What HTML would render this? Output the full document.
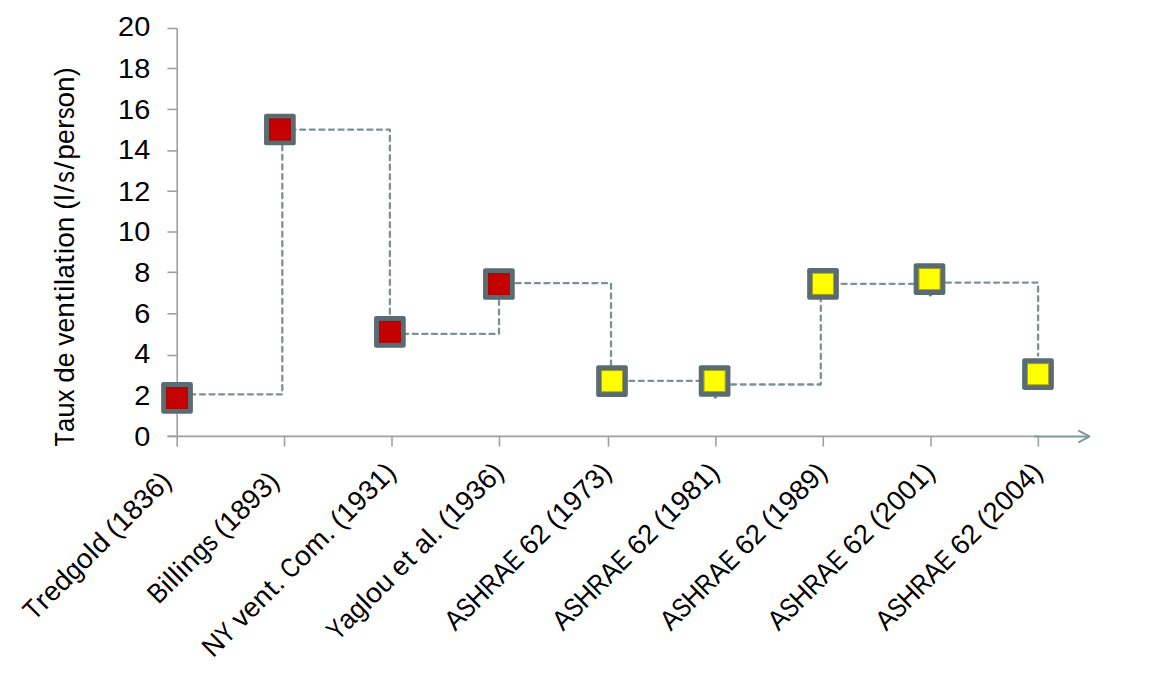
<!DOCTYPE html>
<html><head><meta charset="utf-8"><title>Taux de ventilation</title>
<style>
html,body{margin:0;padding:0;background:#fff;}
body{width:1152px;height:674px;overflow:hidden;}
svg{display:block;}
.t{font-family:"Liberation Sans",sans-serif;font-size:27px;fill:#000;}
</style></head><body>
<svg width="1152" height="674" viewBox="0 0 1152 674">
<rect width="1152" height="674" fill="#fff"/>
<line x1="177.2" y1="28.5" x2="177.2" y2="446.8" stroke="#A0A0A0" stroke-width="1.6"/>
<line x1="167.4" y1="436.4" x2="177.2" y2="436.4" stroke="#A0A0A0" stroke-width="1.6"/>
<line x1="167.4" y1="395.9" x2="177.2" y2="395.9" stroke="#A0A0A0" stroke-width="1.6"/>
<line x1="167.4" y1="355.5" x2="177.2" y2="355.5" stroke="#A0A0A0" stroke-width="1.6"/>
<line x1="167.4" y1="313.8" x2="177.2" y2="313.8" stroke="#A0A0A0" stroke-width="1.6"/>
<line x1="167.4" y1="272.3" x2="177.2" y2="272.3" stroke="#A0A0A0" stroke-width="1.6"/>
<line x1="167.4" y1="232.0" x2="177.2" y2="232.0" stroke="#A0A0A0" stroke-width="1.6"/>
<line x1="167.4" y1="191.2" x2="177.2" y2="191.2" stroke="#A0A0A0" stroke-width="1.6"/>
<line x1="167.4" y1="150.9" x2="177.2" y2="150.9" stroke="#A0A0A0" stroke-width="1.6"/>
<line x1="167.4" y1="109.4" x2="177.2" y2="109.4" stroke="#A0A0A0" stroke-width="1.6"/>
<line x1="167.4" y1="68.5" x2="177.2" y2="68.5" stroke="#A0A0A0" stroke-width="1.6"/>
<line x1="167.4" y1="28.5" x2="177.2" y2="28.5" stroke="#A0A0A0" stroke-width="1.6"/>
<line x1="167.6" y1="436.4" x2="1038.6" y2="436.4" stroke="#A0A0A0" stroke-width="1.6"/>
<line x1="284.5" y1="436.4" x2="284.5" y2="446.6" stroke="#A0A0A0" stroke-width="1.6"/>
<line x1="392.0" y1="436.4" x2="392.0" y2="446.6" stroke="#A0A0A0" stroke-width="1.6"/>
<line x1="499.5" y1="436.4" x2="499.5" y2="446.6" stroke="#A0A0A0" stroke-width="1.6"/>
<line x1="608.5" y1="436.4" x2="608.5" y2="446.6" stroke="#A0A0A0" stroke-width="1.6"/>
<line x1="715.9" y1="436.4" x2="715.9" y2="446.6" stroke="#A0A0A0" stroke-width="1.6"/>
<line x1="823.3" y1="436.4" x2="823.3" y2="446.6" stroke="#A0A0A0" stroke-width="1.6"/>
<line x1="931.0" y1="436.4" x2="931.0" y2="446.6" stroke="#A0A0A0" stroke-width="1.6"/>
<line x1="1038.4" y1="436.4" x2="1038.4" y2="446.6" stroke="#A0A0A0" stroke-width="1.6"/>
<line x1="1035" y1="436.4" x2="1089" y2="436.4" stroke="#7F999D" stroke-width="2.0" stroke-linecap="round"/>
<polyline points="1079,430.8 1089.5,436.4 1079,442.1" fill="none" stroke="#7F999D" stroke-width="2.0" stroke-linecap="round" stroke-linejoin="round"/>
<text transform="translate(150.2,446.2) scale(1.07,1)" x="0" y="0" text-anchor="end" class="t">0</text>
<text transform="translate(150.2,404.7) scale(1.07,1)" x="0" y="0" text-anchor="end" class="t">2</text>
<text transform="translate(150.2,363.4) scale(1.07,1)" x="0" y="0" text-anchor="end" class="t">4</text>
<text transform="translate(150.2,323.2) scale(1.07,1)" x="0" y="0" text-anchor="end" class="t">6</text>
<text transform="translate(150.2,281.6) scale(1.07,1)" x="0" y="0" text-anchor="end" class="t">8</text>
<text transform="translate(150.2,241.1) scale(1.07,1)" x="0" y="0" text-anchor="end" class="t">10</text>
<text transform="translate(150.2,200.9) scale(1.07,1)" x="0" y="0" text-anchor="end" class="t">12</text>
<text transform="translate(150.2,159.3) scale(1.07,1)" x="0" y="0" text-anchor="end" class="t">14</text>
<text transform="translate(150.2,119.2) scale(1.07,1)" x="0" y="0" text-anchor="end" class="t">16</text>
<text transform="translate(150.2,78.2) scale(1.07,1)" x="0" y="0" text-anchor="end" class="t">18</text>
<text transform="translate(150.2,36.1) scale(1.07,1)" x="0" y="0" text-anchor="end" class="t">20</text>
<path d="M177,394.3 L282.3,394.3 L282.3,129.7 L389.9,129.7 L389.9,333.9 L499,333.9 L499,283.2 L611,283.2 L611,380.8 L714.6,380.8 L714.6,384.5 L820.8,384.5 L820.8,283.8 L929.5,283.8 L929.5,282.6 L1038.1,282.6 L1038.1,355.5" fill="none" stroke="#7D9194" stroke-width="2.3" stroke-dasharray="5 4.6" stroke-dashoffset="5.85" stroke-linecap="round" stroke-linejoin="round"/>
<rect x="161.20" y="382.10" width="31.70" height="31.70" rx="2.2" fill="#5A6B71"/>
<rect x="166.20" y="387.10" width="21.70" height="21.70" fill="#C40000"/>
<rect x="166.55" y="387.45" width="21.00" height="21.00" fill="none" stroke="#9C0A0A" stroke-width="0.8" stroke-opacity="0.8"/>
<rect x="264.05" y="113.65" width="31.70" height="31.70" rx="2.2" fill="#5A6B71"/>
<rect x="269.05" y="118.65" width="21.70" height="21.70" fill="#C40000"/>
<rect x="269.40" y="119.00" width="21.00" height="21.00" fill="none" stroke="#9C0A0A" stroke-width="0.8" stroke-opacity="0.8"/>
<rect x="374.05" y="315.95" width="31.70" height="31.70" rx="2.2" fill="#5A6B71"/>
<rect x="379.05" y="320.95" width="21.70" height="21.70" fill="#C40000"/>
<rect x="379.40" y="321.30" width="21.00" height="21.00" fill="none" stroke="#9C0A0A" stroke-width="0.8" stroke-opacity="0.8"/>
<rect x="483.05" y="268.15" width="31.70" height="31.70" rx="2.2" fill="#5A6B71"/>
<rect x="488.05" y="273.15" width="21.70" height="21.70" fill="#C40000"/>
<rect x="488.40" y="273.50" width="21.00" height="21.00" fill="none" stroke="#9C0A0A" stroke-width="0.8" stroke-opacity="0.8"/>
<rect x="596.15" y="365.35" width="31.70" height="31.70" rx="2.2" fill="#5A6B71"/>
<rect x="601.15" y="370.35" width="21.70" height="21.70" fill="#FFFF00"/>
<rect x="601.50" y="370.70" width="21.00" height="21.00" fill="none" stroke="#7E7E1E" stroke-width="0.8" stroke-opacity="0.8"/>
<rect x="698.75" y="365.15" width="31.70" height="31.70" rx="2.2" fill="#5A6B71"/>
<rect x="703.75" y="370.15" width="21.70" height="21.70" fill="#FFFF00"/>
<rect x="704.10" y="370.50" width="21.00" height="21.00" fill="none" stroke="#7E7E1E" stroke-width="0.8" stroke-opacity="0.8"/>
<rect x="807.15" y="267.95" width="31.70" height="31.70" rx="2.2" fill="#5A6B71"/>
<rect x="812.15" y="272.95" width="21.70" height="21.70" fill="#FFFF00"/>
<rect x="812.50" y="273.30" width="21.00" height="21.00" fill="none" stroke="#7E7E1E" stroke-width="0.8" stroke-opacity="0.8"/>
<rect x="913.65" y="263.25" width="31.70" height="31.70" rx="2.2" fill="#5A6B71"/>
<rect x="918.65" y="268.25" width="21.70" height="21.70" fill="#FFFF00"/>
<rect x="919.00" y="268.60" width="21.00" height="21.00" fill="none" stroke="#7E7E1E" stroke-width="0.8" stroke-opacity="0.8"/>
<rect x="1022.15" y="358.35" width="31.70" height="31.70" rx="2.2" fill="#5A6B71"/>
<rect x="1027.15" y="363.35" width="21.70" height="21.70" fill="#FFFF00"/>
<rect x="1027.50" y="363.70" width="21.00" height="21.00" fill="none" stroke="#7E7E1E" stroke-width="0.8" stroke-opacity="0.8"/>
<ellipse cx="715.4" cy="397.4" rx="1.8" ry="1.1" fill="#6F8286"/>
<ellipse cx="930.4" cy="295.4" rx="1.8" ry="1.1" fill="#6F8286"/>
<g transform="translate(173.0,482.8) rotate(-45)" class="t" style="font-size:27.5px"><text transform="translate(-196.09,0) scale(0.879,1)">T</text><text transform="translate(-180.81,0) scale(1.040,1)">r</text><text transform="translate(-170.76,0) scale(0.986,1)">e</text><text transform="translate(-155.68,0) scale(1.040,1)">d</text><text transform="translate(-139.77,0) scale(0.933,1)">g</text><text transform="translate(-125.47,0) scale(1.040,1)">o</text><text transform="translate(-109.23,0) scale(1.040,1)">l</text><text transform="translate(-102.57,0) scale(1.040,1)">d</text><text x="-79.80" y="0">(</text><text x="-70.62" y="0">1</text><text x="-55.26" y="0">8</text><text x="-39.90" y="0">3</text><text x="-24.54" y="0">6</text><text x="-9.19" y="0">)</text></g>
<g transform="translate(280.8,482.8) rotate(-45)" class="t" style="font-size:27.5px"><text transform="translate(-172.98,0) scale(0.899,1)">B</text><text transform="translate(-156.20,0) scale(1.040,1)">i</text><text transform="translate(-149.25,0) scale(1.040,1)">l</text><text transform="translate(-142.29,0) scale(1.040,1)">l</text><text transform="translate(-135.34,0) scale(1.040,1)">i</text><text transform="translate(-128.68,0) scale(1.040,1)">n</text><text transform="translate(-112.77,0) scale(0.933,1)">g</text><text transform="translate(-98.50,0) scale(0.862,1)">s</text><text x="-79.80" y="0">(</text><text x="-70.62" y="0">1</text><text x="-55.26" y="0">8</text><text x="-39.90" y="0">9</text><text x="-24.54" y="0">3</text><text x="-9.19" y="0">)</text></g>
<g transform="translate(397.6,473.8) rotate(-45)" class="t" style="font-size:27.5px"><text transform="translate(-261.15,0) scale(0.985,1)">N</text><text transform="translate(-241.59,0) scale(0.805,1)">Y</text><text x="-219.97" y="0">v</text><text transform="translate(-206.29,0) scale(0.986,1)">e</text><text transform="translate(-191.20,0) scale(1.040,1)">n</text><text transform="translate(-174.19,0) scale(1.040,1)">t</text><text x="-165.14" y="0">.</text><text transform="translate(-150.64,0) scale(0.814,1)">C</text><text transform="translate(-134.45,0) scale(1.040,1)">o</text><text transform="translate(-118.32,0) scale(1.040,1)">m</text><text x="-94.30" y="0">.</text><text x="-79.80" y="0">(</text><text x="-70.62" y="0">1</text><text x="-55.26" y="0">9</text><text x="-39.90" y="0">3</text><text x="-24.54" y="0">1</text><text x="-9.19" y="0">)</text></g>
<g transform="translate(505.3,473.8) rotate(-45)" class="t" style="font-size:27.5px"><text transform="translate(-237.09,0) scale(0.805,1)">Y</text><text transform="translate(-222.32,0) scale(0.949,1)">a</text><text transform="translate(-207.81,0) scale(0.933,1)">g</text><text transform="translate(-193.25,0) scale(1.040,1)">l</text><text transform="translate(-186.56,0) scale(1.040,1)">o</text><text transform="translate(-170.61,0) scale(1.040,1)">u</text><text transform="translate(-147.85,0) scale(0.986,1)">e</text><text transform="translate(-131.67,0) scale(1.040,1)">t</text><text transform="translate(-115.77,0) scale(0.949,1)">a</text><text transform="translate(-100.96,0) scale(1.040,1)">l</text><text x="-94.30" y="0">.</text><text x="-79.80" y="0">(</text><text x="-70.62" y="0">1</text><text x="-55.26" y="0">9</text><text x="-39.90" y="0">3</text><text x="-24.54" y="0">6</text><text x="-9.19" y="0">)</text></g>
<g transform="translate(613.1,473.8) rotate(-45)" class="t" style="font-size:27.5px"><text transform="translate(-223.33,0) scale(0.956,1)">A</text><text transform="translate(-206.17,0) scale(0.800,1)">S</text><text transform="translate(-191.88,0) scale(0.951,1)">H</text><text transform="translate(-173.00,0) scale(0.828,1)">R</text><text transform="translate(-156.55,0) scale(0.956,1)">A</text><text transform="translate(-139.01,0) scale(0.807,1)">E</text><text x="-117.37" y="0">6</text><text x="-102.01" y="0">2</text><text x="-79.80" y="0">(</text><text x="-70.62" y="0">1</text><text x="-55.26" y="0">9</text><text x="-39.90" y="0">7</text><text x="-24.54" y="0">3</text><text x="-9.19" y="0">)</text></g>
<g transform="translate(720.9,473.8) rotate(-45)" class="t" style="font-size:27.5px"><text transform="translate(-223.33,0) scale(0.956,1)">A</text><text transform="translate(-206.17,0) scale(0.800,1)">S</text><text transform="translate(-191.88,0) scale(0.951,1)">H</text><text transform="translate(-173.00,0) scale(0.828,1)">R</text><text transform="translate(-156.55,0) scale(0.956,1)">A</text><text transform="translate(-139.01,0) scale(0.807,1)">E</text><text x="-117.37" y="0">6</text><text x="-102.01" y="0">2</text><text x="-79.80" y="0">(</text><text x="-70.62" y="0">1</text><text x="-55.26" y="0">9</text><text x="-39.90" y="0">8</text><text x="-24.54" y="0">1</text><text x="-9.19" y="0">)</text></g>
<g transform="translate(828.7,473.8) rotate(-45)" class="t" style="font-size:27.5px"><text transform="translate(-223.33,0) scale(0.956,1)">A</text><text transform="translate(-206.17,0) scale(0.800,1)">S</text><text transform="translate(-191.88,0) scale(0.951,1)">H</text><text transform="translate(-173.00,0) scale(0.828,1)">R</text><text transform="translate(-156.55,0) scale(0.956,1)">A</text><text transform="translate(-139.01,0) scale(0.807,1)">E</text><text x="-117.37" y="0">6</text><text x="-102.01" y="0">2</text><text x="-79.80" y="0">(</text><text x="-70.62" y="0">1</text><text x="-55.26" y="0">9</text><text x="-39.90" y="0">8</text><text x="-24.54" y="0">9</text><text x="-9.19" y="0">)</text></g>
<g transform="translate(936.5,473.8) rotate(-45)" class="t" style="font-size:27.5px"><text transform="translate(-223.33,0) scale(0.956,1)">A</text><text transform="translate(-206.17,0) scale(0.800,1)">S</text><text transform="translate(-191.88,0) scale(0.951,1)">H</text><text transform="translate(-173.00,0) scale(0.828,1)">R</text><text transform="translate(-156.55,0) scale(0.956,1)">A</text><text transform="translate(-139.01,0) scale(0.807,1)">E</text><text x="-117.37" y="0">6</text><text x="-102.01" y="0">2</text><text x="-79.80" y="0">(</text><text x="-70.62" y="0">2</text><text x="-55.26" y="0">0</text><text x="-39.90" y="0">0</text><text x="-24.54" y="0">1</text><text x="-9.19" y="0">)</text></g>
<g transform="translate(1044.2,473.8) rotate(-45)" class="t" style="font-size:27.5px"><text transform="translate(-223.33,0) scale(0.956,1)">A</text><text transform="translate(-206.17,0) scale(0.800,1)">S</text><text transform="translate(-191.88,0) scale(0.951,1)">H</text><text transform="translate(-173.00,0) scale(0.828,1)">R</text><text transform="translate(-156.55,0) scale(0.956,1)">A</text><text transform="translate(-139.01,0) scale(0.807,1)">E</text><text x="-117.37" y="0">6</text><text x="-102.01" y="0">2</text><text x="-79.80" y="0">(</text><text x="-70.62" y="0">2</text><text x="-55.26" y="0">0</text><text x="-39.90" y="0">0</text><text x="-24.54" y="0">4</text><text x="-9.19" y="0">)</text></g>
<g transform="translate(74.4,446.4) rotate(-90)" class="t" style="font-size:28px"><text transform="translate(0.00,0) scale(0.843,1)">T</text><text transform="translate(14.42,0) scale(0.910,1)">a</text><text x="28.60" y="0">u</text><text transform="translate(44.15,0) scale(0.916,1)">x</text><text x="63.67" y="0">d</text><text transform="translate(79.22,0) scale(0.946,1)">e</text><text transform="translate(100.64,0) scale(0.955,1)">v</text><text transform="translate(114.01,0) scale(0.946,1)">e</text><text x="128.73" y="0">n</text><text transform="translate(145.20,0) scale(1.040,1)">t</text><text transform="translate(154.36,0) scale(1.040,1)">i</text><text transform="translate(161.16,0) scale(1.040,1)">l</text><text transform="translate(167.79,0) scale(0.910,1)">a</text><text transform="translate(182.88,0) scale(1.040,1)">t</text><text transform="translate(192.04,0) scale(1.040,1)">i</text><text x="198.67" y="0">o</text><text x="214.28" y="0">n</text><text transform="translate(236.53,0) scale(0.963,1)">(</text><text transform="translate(245.66,0) scale(1.040,1)">l</text><text transform="translate(253.96,0) scale(1.040,1)">/</text><text transform="translate(263.73,0) scale(0.827,1)">s</text><text transform="translate(276.97,0) scale(1.040,1)">/</text><text x="286.74" y="0">p</text><text transform="translate(302.29,0) scale(0.946,1)">e</text><text transform="translate(317.33,0) scale(1.040,1)">r</text><text transform="translate(327.33,0) scale(0.827,1)">s</text><text x="338.91" y="0">o</text><text x="354.52" y="0">n</text><text transform="translate(370.07,0) scale(0.963,1)">)</text></g>
</svg>
</body></html>
